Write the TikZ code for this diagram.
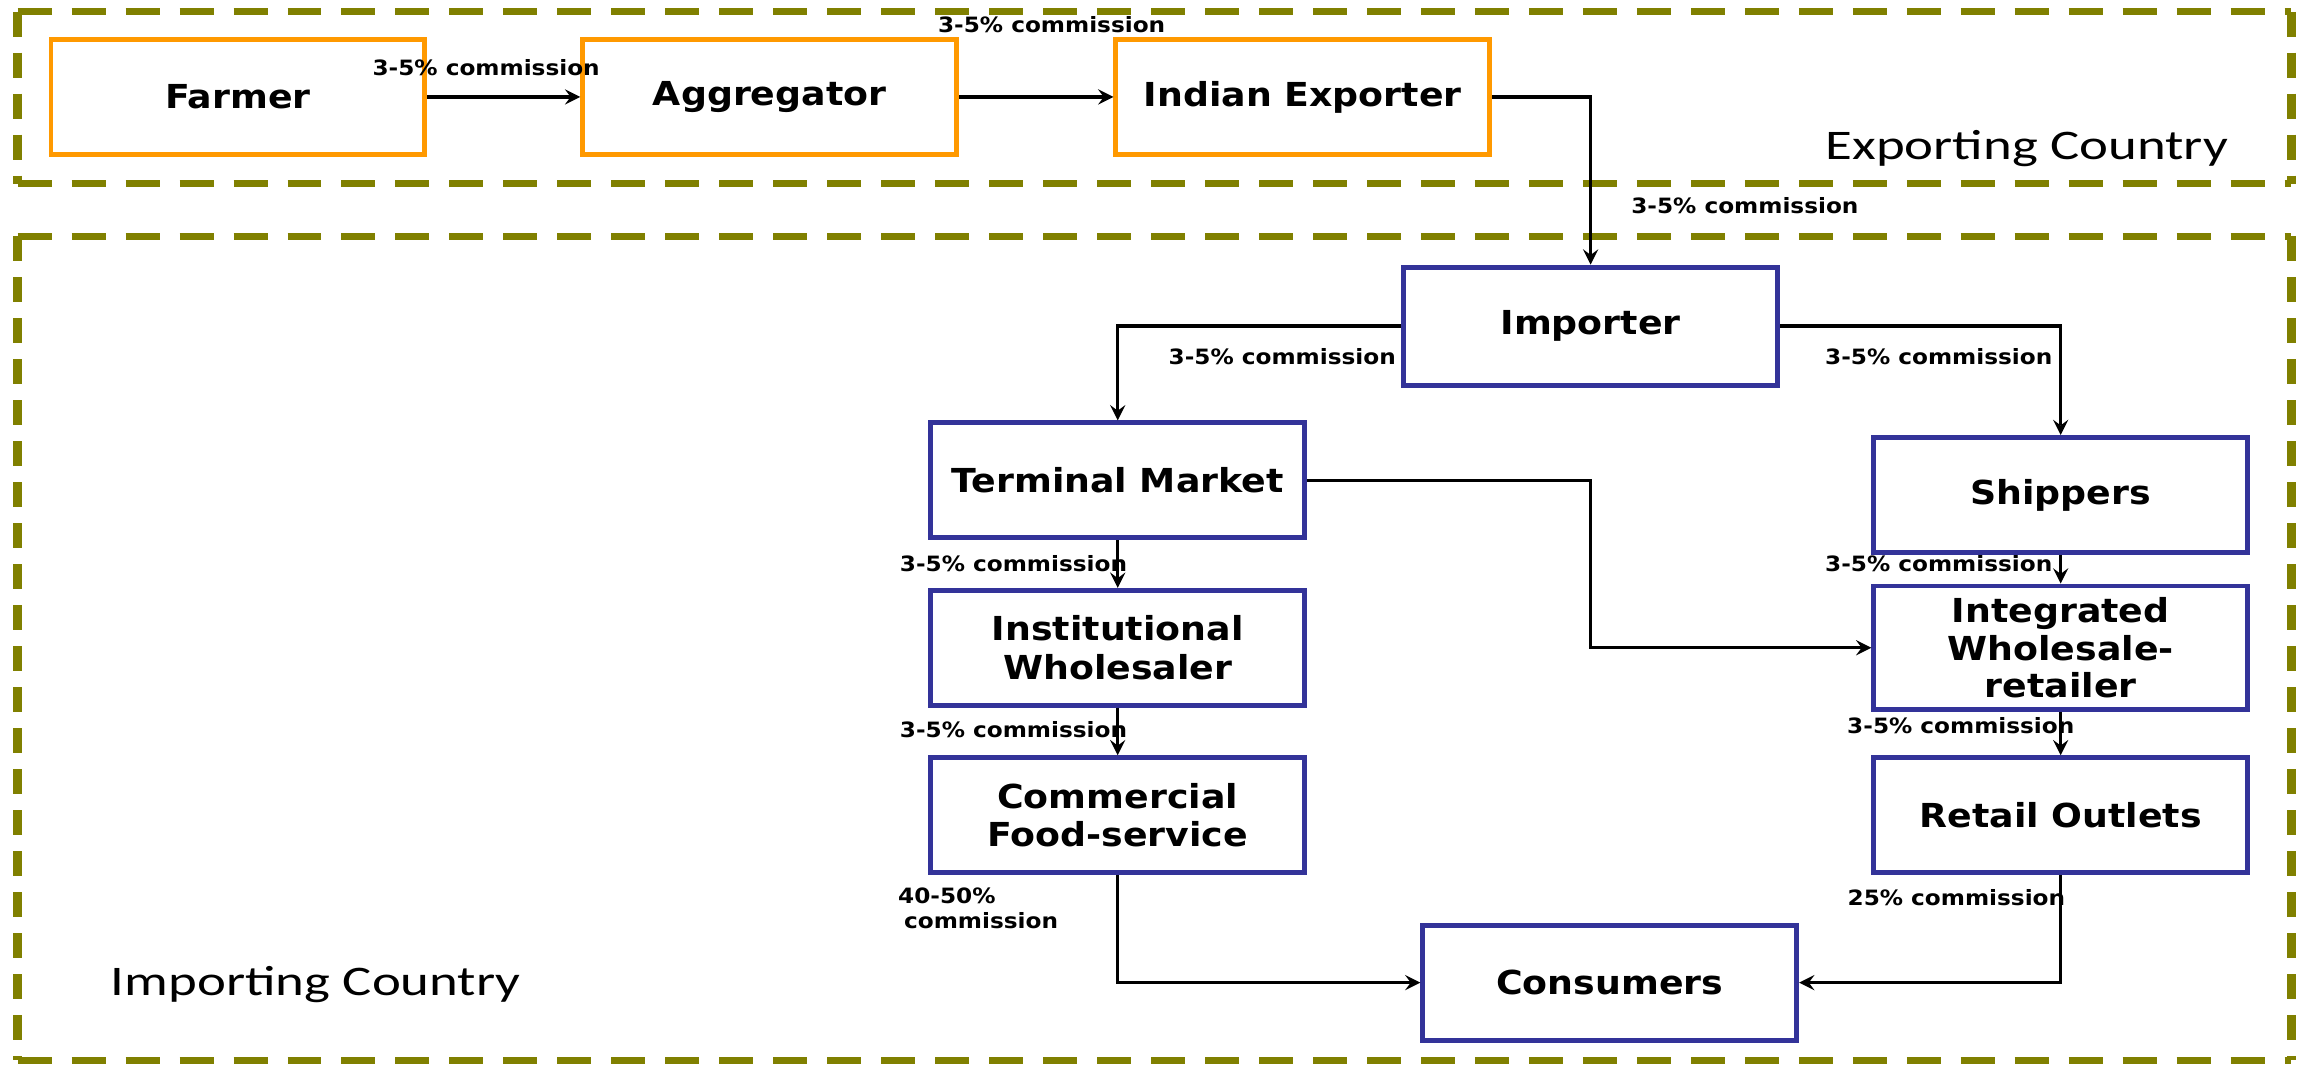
\documentclass[tikz,border=0pt]{standalone}
\usepackage{fontspec}
\usepackage{tikz}
\usetikzlibrary{arrows,arrows.meta}
\usetikzlibrary{calc}
\newfontfamily\boxfont[FakeStretch=1.1]{DejaVu Sans}
\newfontfamily\regionfont[FakeStretch=1.3]{Carlito}
\definecolor{zoneolive}{RGB}{128,128,0}
\definecolor{exporange}{RGB}{255,153,0}
\definecolor{impblue}{RGB}{51,51,153}

\begin{document}
\begin{tikzpicture}[x=0.01469cm, y=-0.01469cm,
    zoneh/.style={zoneolive, line width=2.1pt, dash pattern=on 0.34cm off 0.2cm},
    zonev/.style={zoneolive, line width=2.6pt, dash pattern=on 0.25cm off 0.16cm},
    expbox/.style={draw=exporange, line width=1.4pt, fill=white, minimum width=3.74cm, minimum height=1.15cm,
        align=center, font=\boxfont\bfseries\fontsize{9.4}{11}\selectfont},
    impbox/.style={expbox, draw=impblue},
    flow/.style={line width=0.9pt, -stealth},
    lbl/.style={inner sep=0pt, font=\boxfont\bfseries\fontsize{6}{7.2}\selectfont},
    region/.style={inner sep=0pt, font=\regionfont\fontsize{12}{14}\selectfont}]

    \useasboundingbox (0,0) rectangle (1568,727);

    % dashed country zones
    \foreach \top/\bot in {8/125, 161/722} {
        \draw[zoneh] (12,\top) -- (1560,\top);
        \draw[zoneh] (12,\bot) -- (1560,\bot);
        \draw[zonev] (12,\top) -- (12,\bot);
        \draw[zonev] (1560,\top) -- (1560,\bot);
    }

    \node[region] (exporting) at (1380,101) {Exporting Country};
    \node[region] (importing) at (215,670) {Importing Country};

    \node[expbox] (farmer) at (162,66) {Farmer};
    \node[expbox] (aggregator) at (524,66) {Aggregator};
    \node[expbox] (exporter) at (887,66) {Indian Exporter};

    \node[impbox, minimum height=1.18cm] (importer) at (1083,222) {Importer};
    \node[impbox] (terminal) at (761,327) {Terminal Market};
    \node[impbox] (shippers) at (1403,337) {Shippers};
    \node[impbox] (institutional) at (761,441) {Institutional\\Wholesaler};
    \node[impbox, font=\boxfont\bfseries\fontsize{9.4}{10.6}\selectfont] (integrated) at (1403,441) {Integrated\\Wholesale-\\retailer};
    \node[impbox] (commercial) at (761,555) {Commercial\\Food-service};
    \node[impbox] (retail) at (1403,555) {Retail Outlets};
    \node[impbox] (consumers) at (1096,669) {Consumers};

    \draw[flow] (farmer.east) -- (aggregator.west);
    \draw[flow] (aggregator.east) -- (exporter.west);
    \draw[flow] (exporter.east) -| (importer.north);
    \draw[flow] (importer.west) -| (terminal.north);
    \draw[flow] (importer.east) -| (shippers.north);
    \draw[flow] (terminal.east) -- (terminal.east -| importer) |- (integrated.west);
    \draw[flow] (terminal.south) -- (institutional.north);
    \draw[flow] (institutional.south) -- (commercial.north);
    \draw[flow] (shippers.south) -- (integrated.north);
    \draw[flow] (integrated.south) -- (retail.north);
    \draw[flow] (commercial.south) |- (consumers.west);
    \draw[flow] (retail.south) |- (consumers.east);

    \node[lbl] (c-farmer) at (331,46) {3-5\% commission};
    \node[lbl] (c-aggregator) at (716,17) {3-5\% commission};
    \node[lbl] (c-exporter) at (1188,140) {3-5\% commission};
    \node[lbl] (c-terminal) at (873,243) {3-5\% commission};
    \node[lbl] (c-shippers) at (1320,243) {3-5\% commission};
    \node[lbl] (c-institutional) at (690,384) {3-5\% commission};
    \node[lbl] (c-integrated) at (1320,384) {3-5\% commission};
    \node[lbl] (c-commercial) at (690,497) {3-5\% commission};
    \node[lbl] (c-retail) at (1335,494) {3-5\% commission};
    \node[lbl, align=left, anchor=north west] (c-food) at (611,604) {40-50\%\\\hspace*{0.6mm}commission};
    \node[lbl] (c-outlets) at (1332,611) {25\% commission};

\end{tikzpicture}
\end{document}
